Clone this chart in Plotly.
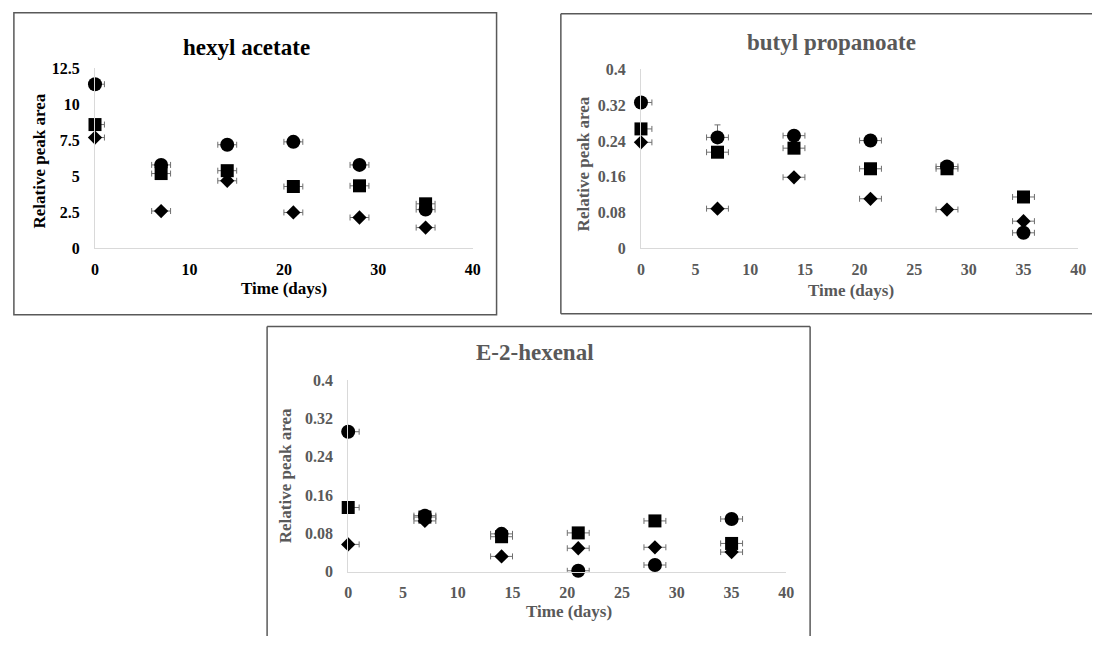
import plotly.graph_objects as go

days = [0, 7, 14, 21, 28, 35]
x_err = [1, 1, 1, 1, 1, 1]

# hexyl acetate
ha_circle = [11.4, 5.8, 7.2, 7.4, 5.8, 2.7]
ha_square = [8.6, 5.2, 5.4, 4.3, 4.35, 3.1]
ha_diamond = [7.7, 2.6, 4.7, 2.5, 2.15, 1.45]

# butyl propanoate
bp_circle = [0.326, 0.248, 0.252, 0.241, 0.183, 0.035]
bp_circle_err = [0, 0.028, 0, 0, 0, 0]
bp_square = [0.267, 0.215, 0.224, 0.178, 0.178, 0.115]
bp_diamond = [0.237, 0.089, 0.159, 0.111, 0.087, 0.061]

# E-2-hexenal
eh_circle = [0.292, 0.117, 0.079, 0.002, 0.014, 0.110]
eh_square = [0.134, 0.114, 0.073, 0.081, 0.106, 0.059]
eh_diamond = [0.057, 0.106, 0.032, 0.049, 0.051, 0.041]

titles = ["hexyl acetate", "butyl propanoate", "E-2-hexenal"]
ha_yticks = [0, 2.5, 5, 7.5, 10, 12.5]
ha_yticktext = ["0", "2.5", "5", "7.5", "10", "12.5"]
ha_xticks = [0, 10, 20, 30, 40]
bp_yticks = [0, 0.08, 0.16, 0.24, 0.32, 0.4]
bp_yticktext = ["0", "0.08", "0.16", "0.24", "0.32", "0.4"]
bp_xticks = [0, 5, 10, 15, 20, 25, 30, 35, 40]

W, H = 1100, 645
SERIF = "Liberation Serif, Times New Roman, serif"
ERR_COL = "#6f6f6f"
TICK_SIZE = 16
TITLE_SIZE = 23
AXT_SIZE = 17


def px(x):
    return x / W


def py(y):
    return 1 - y / H


fig = go.Figure()

panels = [
    ("", ha_circle, ha_square, ha_diamond, None, "#000000"),
    ("2", bp_circle, bp_square, bp_diamond, bp_circle_err, "#595959"),
    ("3", eh_circle, eh_square, eh_diamond, None, "#595959"),
]

for suf, circ, sq, dia, cerr, col in panels:
    xa = "x" + suf
    ya = "y" + suf
    series = [
        (dia, "diamond", 11, None),
        (sq, "square", 13, None),
        (circ, "circle", 14, cerr),
    ]
    for vals, sym, size, yerr in series:
        tr = dict(
            x=days, y=vals, mode="markers", xaxis=xa, yaxis=ya,
            marker=dict(symbol=sym, size=size, color="#000000"),
            error_x=dict(type="data", array=x_err, color=ERR_COL, thickness=1, width=3),
            cliponaxis=False, showlegend=False, hoverinfo="x+y",
        )
        if yerr is not None:
            tr["error_y"] = dict(type="data", array=yerr, arrayminus=[0] * 6,
                                 color=ERR_COL, thickness=1, width=3)
        fig.add_trace(go.Scatter(**tr))


def axis_common(col):
    return dict(
        showline=True, linecolor="#d9d9d9", linewidth=1,
        showgrid=False, zeroline=False,
        ticks="outside", tickcolor="rgba(0,0,0,0)",
        tickfont=dict(family=SERIF, size=TICK_SIZE, color=col, weight="bold"),
        tickmode="array",
    )


p1 = dict(x0=92, x1=474, y0=62, y1=247)
p2 = dict(x0=644, x1=1086, y0=63, y1=247)
p3 = dict(x0=348, x1=791, y0=382, y1=579)

fig.update_layout(
    width=W, height=H,
    margin=dict(l=0, r=0, t=0, b=0),
    paper_bgcolor="white", plot_bgcolor="white",
    xaxis=dict(domain=[px(p1["x0"]), px(p1["x1"])], range=[0, 40], anchor="y",
               tickvals=ha_xticks, ticktext=[str(v) for v in ha_xticks], ticklen=6,
               **axis_common("#000000")),
    yaxis=dict(domain=[py(p1["y1"]), py(p1["y0"])], range=[0, 12.5], anchor="x",
               tickvals=ha_yticks, ticktext=ha_yticktext, ticklen=11,
               **axis_common("#000000")),
    xaxis2=dict(domain=[px(p2["x0"]), px(p2["x1"])], range=[0, 40], anchor="y2",
                tickvals=bp_xticks, ticktext=[str(v) for v in bp_xticks], ticklen=6,
                **axis_common("#595959")),
    yaxis2=dict(domain=[py(p2["y1"]), py(p2["y0"])], range=[0, 0.4], anchor="x2",
                tickvals=bp_yticks, ticktext=bp_yticktext, ticklen=11,
                **axis_common("#595959")),
    xaxis3=dict(domain=[px(p3["x0"]), px(p3["x1"])], range=[0, 40], anchor="y3",
                tickvals=bp_xticks, ticktext=[str(v) for v in bp_xticks], ticklen=6,
                **axis_common("#595959")),
    yaxis3=dict(domain=[py(p3["y1"]), py(p3["y0"])], range=[0, 0.4], anchor="x3",
                tickvals=bp_yticks, ticktext=bp_yticktext, ticklen=11,
                **axis_common("#595959")),
)

annotations = []
for text, cx, cy, col in [
    (titles[0], 245, 41, "#000000"),
    (titles[1], 837, 35, "#595959"),
    (titles[2], 537, 354, "#595959"),
]:
    annotations.append(dict(text=text, x=px(cx), y=py(cy), xref="paper", yref="paper",
                            showarrow=False, xanchor="center", yanchor="middle",
                            font=dict(family=SERIF, size=TITLE_SIZE, color=col, weight="bold")))
for cx, cy, col in [(283, 288, "#000000"), (856, 290, "#595959"), (571, 620, "#595959")]:
    annotations.append(dict(text="Time (days)", x=px(cx), y=py(cy), xref="paper", yref="paper",
                            showarrow=False, xanchor="center", yanchor="middle",
                            font=dict(family=SERIF, size=AXT_SIZE, color=col, weight="bold")))
for cx, cy, col in [(36, 157, "#000000"), (586, 160, "#595959"), (284, 480, "#595959")]:
    annotations.append(dict(text="Relative peak area", x=px(cx), y=py(cy), xref="paper", yref="paper",
                            showarrow=False, xanchor="center", yanchor="middle", textangle=-90,
                            font=dict(family=SERIF, size=AXT_SIZE, color=col, weight="bold")))
fig.update_layout(annotations=annotations)

BOX = dict(color="#595959", width=1.5)
shapes = [
    dict(type="rect", xref="paper", yref="paper", x0=px(10), x1=px(498), y0=py(315), y1=py(5), line=BOX),
    dict(type="line", xref="paper", yref="paper", x0=px(563), x1=px(1100), y0=py(6), y1=py(6), line=BOX),
    dict(type="line", xref="paper", yref="paper", x0=px(563), x1=px(1100), y0=py(314), y1=py(314), line=BOX),
    dict(type="line", xref="paper", yref="paper", x0=px(563), x1=px(563), y0=py(314), y1=py(6), line=BOX),
    dict(type="line", xref="paper", yref="paper", x0=px(266), x1=px(815), y0=py(327), y1=py(327), line=BOX),
    dict(type="line", xref="paper", yref="paper", x0=px(266), x1=px(266), y0=py(645), y1=py(327), line=BOX),
    dict(type="line", xref="paper", yref="paper", x0=px(815), x1=px(815), y0=py(645), y1=py(327), line=BOX),
]
fig.update_layout(shapes=shapes)

fig.write_html("out.html")
